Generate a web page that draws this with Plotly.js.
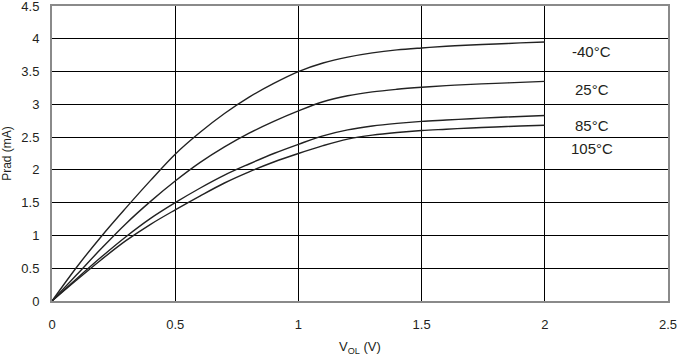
<!DOCTYPE html>
<html>
<head>
<meta charset="utf-8">
<script src="https://cdn.plot.ly/plotly-3.0.1.min.js"></script>
<style>html,body{margin:0;padding:0;background:#fff;}#chart{width:681px;height:356px;}</style>
</head>
<body>
<div id="chart"></div>
<script>
const vol = [0, 0.1, 0.2, 0.3, 0.4, 0.5, 0.6, 0.7, 0.8, 0.9, 1.0, 1.1, 1.2, 1.3, 1.4, 1.5, 1.6, 1.7, 1.8, 1.9, 2.0];
const pradM40 = [0, 0.515, 0.985, 1.42, 1.84, 2.24, 2.57, 2.86, 3.11, 3.32, 3.50, 3.63, 3.72, 3.785, 3.83, 3.86, 3.885, 3.905, 3.92, 3.937, 3.95];
const prad25  = [0, 0.40, 0.80, 1.18, 1.52, 1.83, 2.11, 2.35, 2.56, 2.74, 2.90, 3.04, 3.13, 3.19, 3.23, 3.26, 3.285, 3.305, 3.32, 3.335, 3.35];
const prad85  = [0, 0.34, 0.67, 0.98, 1.26, 1.50, 1.72, 1.92, 2.09, 2.25, 2.39, 2.52, 2.61, 2.67, 2.71, 2.74, 2.76, 2.78, 2.80, 2.815, 2.83];
const prad105 = [0, 0.32, 0.63, 0.92, 1.17, 1.39, 1.60, 1.80, 1.97, 2.12, 2.25, 2.37, 2.47, 2.53, 2.57, 2.60, 2.62, 2.64, 2.655, 2.67, 2.68];
const seriesNames = ['-40°C', '25°C', '85°C', '105°C'];
const labelX = [2.19, 2.19, 2.19, 2.19];
const labelY = [3.80, 3.23, 2.68, 2.32];
const xTicks = [0, 0.5, 1, 1.5, 2, 2.5];
const yTicks = [0, 0.5, 1, 1.5, 2, 2.5, 3, 3.5, 4, 4.5];

const ys = [pradM40, prad25, prad85, prad105];
const traces = ys.map((y, i) => ({
  x: vol, y: y, type: 'scatter', mode: 'lines', name: seriesNames[i],
  line: {color: '#222', width: 1.4, shape: 'spline', smoothing: 1},
  hoverinfo: 'skip'
}));

const font = {family: 'Liberation Sans, Arial, sans-serif', color: '#231f20'};
const layout = {
  width: 681, height: 356,
  margin: {l: 52, r: 13, t: 6, b: 55},
  paper_bgcolor: '#fff', plot_bgcolor: '#fff',
  showlegend: false,
  font: Object.assign({size: 13}, font),
  xaxis: {
    range: [0, 2.5], tickvals: xTicks, ticktext: xTicks.map(String),
    showgrid: true, gridcolor: '#000', gridwidth: 1,
    zeroline: false, showline: true, mirror: true, linecolor: '#8a8a8a', linewidth: 2,
    ticks: 'outside', ticklen: 10, tickcolor: 'rgba(0,0,0,0)',
    ticklabeloverflow: 'allow',
    tickfont: Object.assign({size: 13}, font),
    title: {text: 'V<sub>OL</sub> (V)', font: Object.assign({size: 13}, font), standoff: 12},
    fixedrange: true
  },
  yaxis: {
    range: [0, 4.5], tickvals: yTicks, ticktext: yTicks.map(String),
    showgrid: true, gridcolor: '#000', gridwidth: 1,
    zeroline: false, showline: true, mirror: true, linecolor: '#8a8a8a', linewidth: 2,
    ticks: 'outside', ticklen: 8, tickcolor: 'rgba(0,0,0,0)',
    ticklabeloverflow: 'allow',
    tickfont: Object.assign({size: 13}, font),
    title: {text: 'Prad (mA)', font: Object.assign({size: 12}, font), standoff: 10},
    fixedrange: true
  },
  annotations: seriesNames.map((t, i) => ({
    x: labelX[i], y: labelY[i], xref: 'x', yref: 'y', text: t, showarrow: false,
    font: Object.assign({size: 15}, font), xanchor: 'center', yanchor: 'middle'
  }))
};
Plotly.newPlot('chart', traces, layout, {displayModeBar: false, staticPlot: true});
</script>
</body>
</html>
